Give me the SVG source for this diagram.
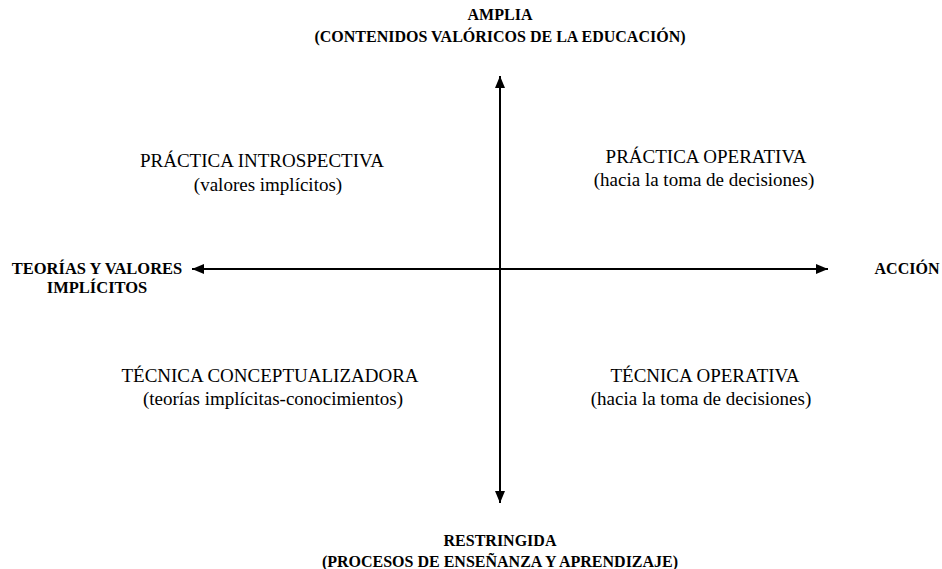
<svg xmlns="http://www.w3.org/2000/svg" width="942" height="569" viewBox="0 0 942 569">
<style>
.lbl{font-family:"Liberation Serif",serif;font-weight:bold;font-size:16px;fill:#000;text-anchor:middle}
.q{font-family:"Liberation Serif",serif;font-size:19px;fill:#000;text-anchor:middle}
.ax{stroke:#000;stroke-width:2;fill:none}
</style>
<defs>
<marker id="ah" viewBox="0 0 12 10" refX="12" refY="5" markerWidth="12" markerHeight="10" markerUnits="userSpaceOnUse" orient="auto">
<path d="M0,0 L12,5 L0,10 Z" fill="#000"/>
</marker>
</defs>
<rect width="942" height="569" fill="#fff"/>
<g id="connectors">
<line class="ax" x1="500" y1="269" x2="500" y2="76" marker-end="url(#ah)"/>
<line class="ax" x1="500" y1="269" x2="500" y2="503" marker-end="url(#ah)"/>
<line class="ax" x1="500" y1="269" x2="192" y2="269" marker-end="url(#ah)"/>
<line class="ax" x1="500" y1="269" x2="828" y2="269" marker-end="url(#ah)"/>
</g>
<g id="top-label"><text class="lbl" x="500" y="20">AMPLIA</text><text class="lbl" x="500" y="42">(CONTENIDOS VALÓRICOS DE LA EDUCACIÓN)</text></g>
<g id="bottom-label"><text class="lbl" x="500" y="546">RESTRINGIDA</text><text class="lbl" x="500" y="567">(PROCESOS DE ENSEÑANZA Y APRENDIZAJE)</text></g>
<g id="left-label"><text class="lbl" x="97" y="274" style="font-size:16.5px">TEORÍAS Y VALORES</text><text class="lbl" x="97" y="293" style="font-size:16.5px">IMPLÍCITOS</text></g>
<g id="right-label"><text class="lbl" x="907" y="274">ACCIÓN</text></g>
<g id="q1"><text class="q" x="262" y="167">PRÁCTICA INTROSPECTIVA</text><text class="q" x="268" y="191">(valores implícitos)</text></g>
<g id="q2"><text class="q" x="706" y="163">PRÁCTICA OPERATIVA</text><text class="q" x="704" y="186">(hacia la toma de decisiones)</text></g>
<g id="q3"><text class="q" x="270" y="382">TÉCNICA CONCEPTUALIZADORA</text><text class="q" x="273" y="405">(teorías implícitas-conocimientos)</text></g>
<g id="q4"><text class="q" x="705" y="382">TÉCNICA OPERATIVA</text><text class="q" x="701" y="405">(hacia la toma de decisiones)</text></g>
</svg>
